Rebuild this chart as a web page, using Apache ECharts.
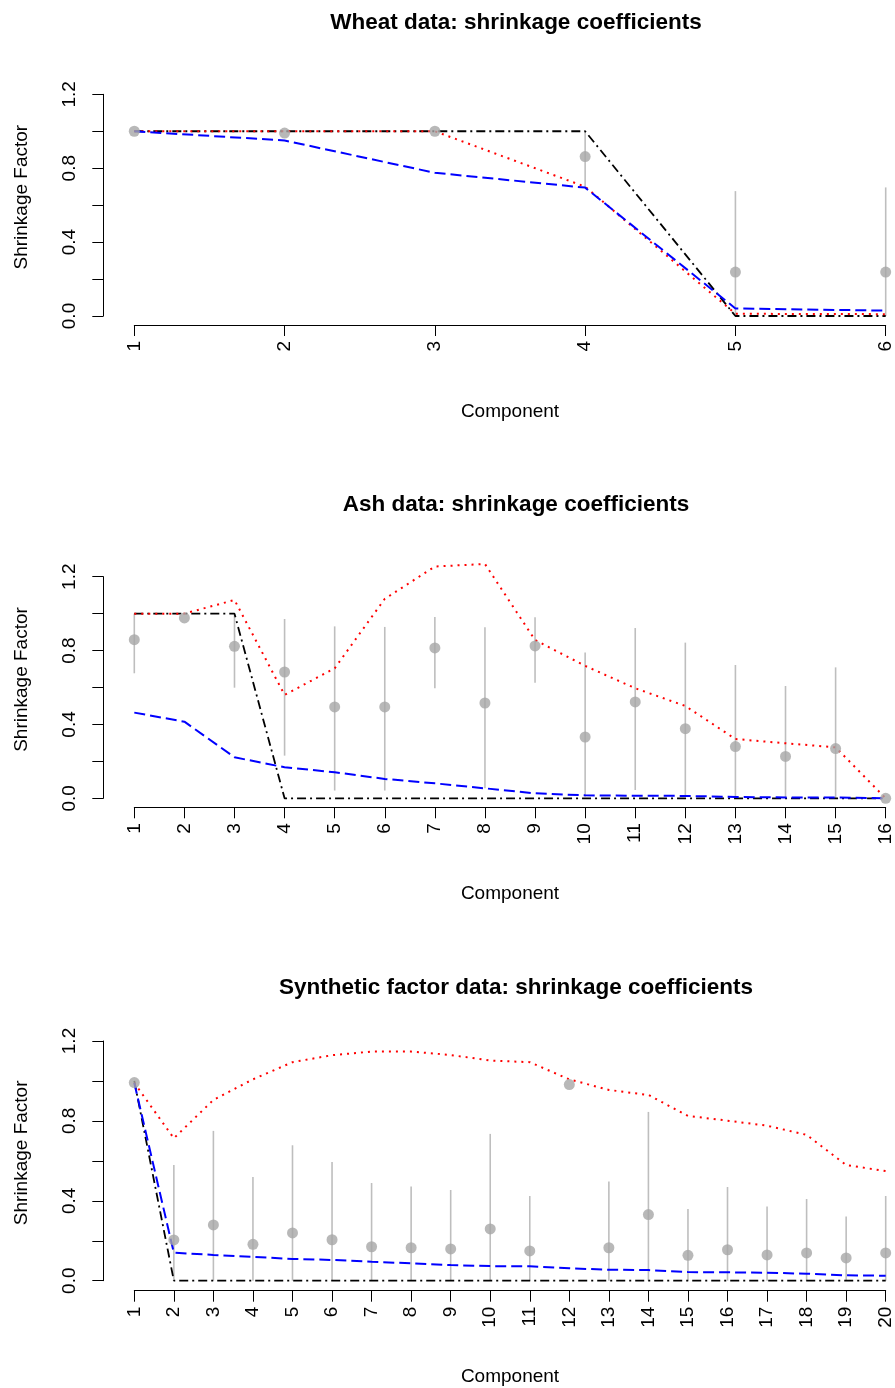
<!DOCTYPE html>
<html>
<head>
<meta charset="utf-8">
<script src="https://cdn.jsdelivr.net/npm/echarts@6/dist/echarts.min.js"></script>
<style>
  html, body { margin: 0; padding: 0; background: #fff; }
  #chart { width: 895px; height: 1388px; }
</style>
</head>
<body>
<div id="chart"></div>
<script>
// ---- data ----
const wheatComponents = ['1', '2', '3', '4', '5', '6'];
const wheatPoint = [1.0, 0.99, 1.0, 0.863, 0.238, 0.238];
const wheatLow   = [null, null, null, 0.70, 0, 0];
const wheatHigh  = [null, null, null, 1.0, 0.676, 0.696];
const wheatBlack = [1, 1, 1, 1, 0, 0];
const wheatRed   = [1, 1, 1, 0.70, 0.012, 0.01];
const wheatBlue  = [1.0, 0.95, 0.775, 0.695, 0.041, 0.029];

const ashComponents = ['1', '2', '3', '4', '5', '6', '7', '8', '9', '10', '11', '12', '13', '14', '15', '16'];
const ashPoint = [0.859, 0.977, 0.823, 0.684, 0.495, 0.495, 0.814, 0.516, 0.825, 0.332, 0.522, 0.377, 0.280, 0.227, 0.269, 0.0];
const ashLow   = [0.677, null, 0.599, 0.231, 0.042, 0.042, 0.596, 0.054, 0.626, 0.009, 0.045, 0.009, 0, 0, 0, null];
const ashHigh  = [1.0, null, 0.993, 0.971, 0.931, 0.928, 0.982, 0.926, 0.980, 0.789, 0.922, 0.843, 0.722, 0.608, 0.709, null];
const ashBlack = [1, 1, 1, 0, 0, 0, 0, 0, 0, 0, 0, 0, 0, 0, 0, 0];
const ashRed   = [1.0, 1.0, 1.074, 0.56, 0.704, 1.08, 1.255, 1.269, 0.857, 0.717, 0.596, 0.50, 0.321, 0.298, 0.276, 0.0];
const ashBlue  = [0.464, 0.415, 0.222, 0.168, 0.141, 0.105, 0.081, 0.054, 0.027, 0.016, 0.014, 0.013, 0.007, 0.005, 0.004, 0.0];

const synComponents = ['1', '2', '3', '4', '5', '6', '7', '8', '9', '10', '11', '12', '13', '14', '15', '16', '17', '18', '19', '20'];
const synPoint = [0.992, 0.204, 0.279, 0.182, 0.239, 0.205, 0.170, 0.165, 0.159, 0.259, 0.149, 0.982, 0.165, 0.331, 0.127, 0.155, 0.129, 0.139, 0.114, 0.139];
const synLow   = [null, 0, 0, 0, 0, 0, 0, 0, 0, 0, 0, null, 0, 0, 0, 0, 0, 0, 0, 0];
const synHigh  = [null, 0.579, 0.750, 0.519, 0.678, 0.594, 0.489, 0.471, 0.454, 0.735, 0.424, null, 0.497, 0.845, 0.359, 0.469, 0.372, 0.409, 0.321, 0.424];
const synBlack = [1, 0, 0, 0, 0, 0, 0, 0, 0, 0, 0, 0, 0, 0, 0, 0, 0, 0, 0, 0];
const synRed   = [0.99, 0.713, 0.905, 1.008, 1.094, 1.129, 1.147, 1.147, 1.13, 1.102, 1.094, 1.008, 0.955, 0.93, 0.825, 0.801, 0.776, 0.73, 0.579, 0.549];
const synBlue  = [0.99, 0.14, 0.129, 0.119, 0.109, 0.104, 0.095, 0.087, 0.078, 0.073, 0.072, 0.062, 0.055, 0.053, 0.043, 0.042, 0.04, 0.035, 0.027, 0.025];

const titles = [
  'Wheat data: shrinkage coefficients',
  'Ash data: shrinkage coefficients',
  'Synthetic factor data: shrinkage coefficients'
];
const yTicks = [0, 0.4, 0.8, 1.2];

// ---- layout ----
const FONT = 'Liberation Sans';
const plotLeft = 134.3;
const plotRight = 895 - 885.7;
const gridTops = [94.3, 576.7, 1041];
const gridHeights = [221.7, 221.6, 239.7];
const xOffsets = [9, 9, 10];
const titleTops = [6, 488.5, 971];

const chart = echarts.init(document.getElementById('chart'));

function errorBars(k, point, low, high) {
  const data = [];
  point.forEach((v, i) => {
    if (low[i] !== null) data.push([i, low[i], high[i]]);
  });
  return {
    type: 'custom',
    xAxisIndex: k,
    yAxisIndex: k,
    clip: false,
    z: 2,
    data: data,
    encode: { x: 0, y: [1, 2] },
    renderItem: function (params, api) {
      const a = api.coord([api.value(0), api.value(1)]);
      const b = api.coord([api.value(0), api.value(2)]);
      return {
        type: 'line',
        shape: { x1: a[0], y1: a[1], x2: b[0], y2: b[1] },
        style: { stroke: '#BEBEBE', lineWidth: 1.6 }
      };
    }
  };
}

function curve(k, data, color, dash, width) {
  return {
    type: 'line',
    xAxisIndex: k,
    yAxisIndex: k,
    data: data,
    symbol: 'none',
    clip: false,
    z: 3,
    lineStyle: { color: color, type: dash, width: width }
  };
}

function panel(k, point, low, high, black, red, blue) {
  return [
    errorBars(k, point, low, high),
    {
      type: 'scatter',
      xAxisIndex: k,
      yAxisIndex: k,
      data: point,
      symbolSize: 11,
      clip: false,
      z: 4,
      itemStyle: { color: '#A6A6A6' }
    },
    curve(k, black, '#000000', [9, 4, 2, 4], 1.8),
    curve(k, red, '#FF0000', [2, 5], 2),
    curve(k, blue, '#0000FF', [11, 5], 2)
  ];
}

const allComponents = [wheatComponents, ashComponents, synComponents];

const option = {
  animation: false,
  backgroundColor: '#ffffff',
  title: titles.map((t, k) => ({
    text: t,
    left: 511,
    top: titleTops[k],
    textAlign: 'center',
    textStyle: { fontFamily: FONT, fontWeight: 'bold', fontSize: 22.5, color: '#000' }
  })),
  grid: gridTops.map((top, k) => ({
    left: plotLeft,
    right: plotRight,
    top: top,
    height: gridHeights[k],
    containLabel: false,
    outerBoundsMode: 'none'
  })),
  xAxis: allComponents.map((cats, k) => ({
    gridIndex: k,
    type: 'category',
    data: cats,
    boundaryGap: false,
    offset: xOffsets[k],
    name: 'Component',
    nameLocation: 'middle',
    nameGap: 77,
    nameMoveOverlap: false,
    nameTextStyle: { fontFamily: FONT, fontSize: 19, color: '#000' },
    axisLine: { onZero: false, lineStyle: { color: '#000', width: 1 } },
    axisTick: { length: 11, interval: 0, lineStyle: { color: '#000' } },
    axisLabel: {
      interval: 0,
      rotate: 90,
      margin: 16,
      fontFamily: FONT,
      fontSize: 19,
      color: '#000',
      hideOverlap: false
    },
    splitLine: { show: false }
  })),
  yAxis: gridTops.map((top, k) => ({
    gridIndex: k,
    type: 'value',
    min: 0,
    max: 1.2,
    interval: 0.2,
    offset: 31,
    name: 'Shrinkage Factor',
    nameLocation: 'middle',
    nameGap: 72,
    nameMoveOverlap: false,
    nameTextStyle: { fontFamily: FONT, fontSize: 19, color: '#000', padding: [0, 0, 0, 16] },
    axisLine: { show: true, onZero: false, lineStyle: { color: '#000', width: 1 } },
    axisTick: { show: true, length: 11, lineStyle: { color: '#000' } },
    axisLabel: {
      rotate: 90,
      margin: 24,
      fontFamily: FONT,
      fontSize: 19,
      color: '#000',
      formatter: function (v) {
        const hit = yTicks.some(t => Math.abs(t - v) < 1e-6);
        return hit ? v.toFixed(1) : '';
      }
    },
    splitLine: { show: false }
  })),
  series: [].concat(
    panel(0, wheatPoint, wheatLow, wheatHigh, wheatBlack, wheatRed, wheatBlue),
    panel(1, ashPoint, ashLow, ashHigh, ashBlack, ashRed, ashBlue),
    panel(2, synPoint, synLow, synHigh, synBlack, synRed, synBlue)
  )
};

chart.setOption(option);
</script>
</body>
</html>
